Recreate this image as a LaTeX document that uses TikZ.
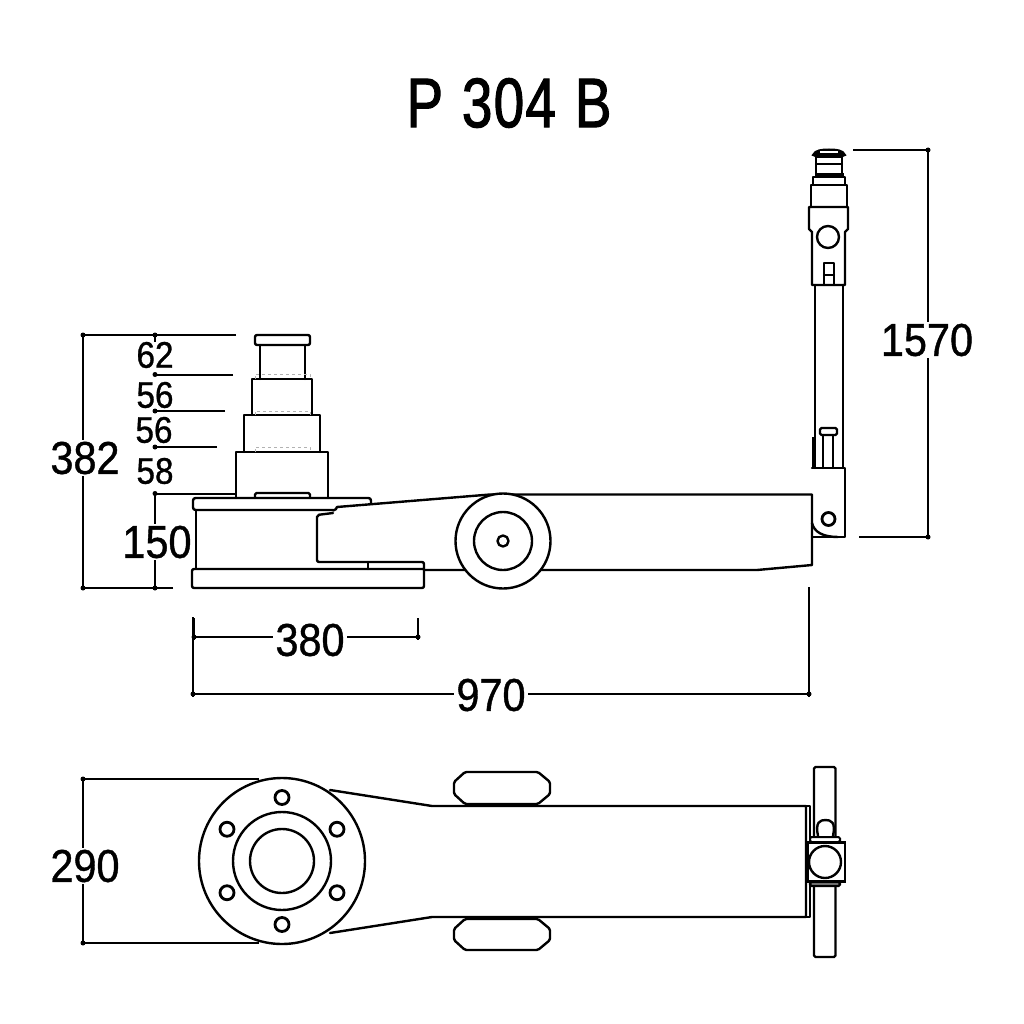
\documentclass[tikz,border=0pt]{standalone}
\usepackage{fontspec}
\setmainfont[FakeStretch=0.9,FakeBold=0.9]{Liberation Sans}
\newfontfamily\titlefont[FakeStretch=0.78,FakeBold=1.6,WordSpace=1.15,LetterSpace=2]{Liberation Sans}
\tikzset{
  part/.style={line width=2.4pt,line join=round,line cap=round},
  dim/.style={line width=2pt},
  hid/.style={line width=.6pt,gray!60,dashed},
  lab/.style={font=\fontsize{46}{46}\selectfont,inner sep=2pt,fill=none},
  small lab/.style={font=\fontsize{37}{37}\selectfont,inner sep=0pt},
  dot/.style={circle,fill=black,inner sep=0pt,minimum size=5pt}
}
\begin{document}
\begin{tikzpicture}[x=1pt,y=-1pt]
\useasboundingbox (0,0) rectangle (1024,1024);
% title
\node[font=\titlefont\fontsize{70}{70}\selectfont,inner sep=0pt] (title) at (509,103) {P 304 B};

% side view: cylinder
\draw[part,rounded corners=2pt] (255,335) rectangle (310,345);
\draw[part] (260,345) -- (260,379);
\draw[part] (305,345) -- (305,379);
\draw[part] (252,415) -- (252,379) -- (312,379) -- (312,415);
\draw[part] (244,452) -- (244,415) -- (320,415) -- (320,452);
\draw[part] (236,498) -- (236,452) -- (328,452) -- (328,498);
\draw[part,rounded corners=1.5pt] (255,498) -- (255,493) -- (310,493) -- (310,498);
\draw[hid] (255,379) -- (255,374) -- (310,374) -- (310,379);
\draw[hid] (255,415) -- (255,411) -- (310,411) -- (310,415);
\draw[hid] (255,452) -- (255,447) -- (310,447) -- (310,452);

% side view: saddle arm and base
\draw[part,rounded corners=2.5pt] (333,510) -- (193,510) -- (193,498) -- (371,498) -- (371,504);
\draw[part] (196,510) -- (196,568);
\draw[part] (337,507) -- (490,494.5) -- (812,494.5) -- (812,565) -- (757,570) -- (424,570);
\draw[part] (333,510.5) .. controls (336,510) and (336,509) .. (337,507);
\draw[part,rounded corners=2pt] (333,513) -- (317,515) -- (317,562) -- (424,562) -- (424,588) -- (192,588) -- (192,569) -- (424,569);
\draw[part] (368,562) -- (368,569);

% wheel
\draw[part,fill=white] (503,541) circle (47.5);
\draw[part] (503,541) circle (29);
\draw[part] (503,541) circle (5.5);

% side view: handle
\draw[part] (815,285) -- (815,468);
\draw[part] (843,285) -- (843,468);
\draw[line width=3.5pt] (813.5,437) -- (813.5,468);
\draw[part] (823,435) -- (823,468);
\draw[part] (833,435) -- (833,468);
\draw[part,rounded corners=1.5pt] (820,428) rectangle (837,435);
\draw[part] (812,468) -- (845,468) -- (845,537) -- (812,537);
\draw[part] (812,523) .. controls (814,532) and (823,537) .. (838,537);
\draw[line width=2.8pt] (828.5,519) circle (6.5);
\draw[part] (812,285) -- (845,285) -- (845,232) -- (848,229) -- (848,207) -- (809,207) -- (809,229) -- (812,232) -- cycle;
\draw[part] (811,207) -- (811,185) -- (847,185) -- (847,207);
\draw[part] (813,185) -- (813,177) -- (845,177) -- (845,185);
\draw[line width=3pt] (815,174.5) -- (844,174.5);
\draw[part] (816,174) -- (816,157);
\draw[part] (842,174) -- (842,157);
\draw[part] (816,164) -- (842,164);
\draw[line width=2pt,fill=black] (813,155) .. controls (815,150) and (822,149.5) .. (829,149.5) .. controls (836,149.5) and (843,150) .. (845,155) -- (840,157) -- (818,157) -- cycle;
\draw[fill=white,draw=none] (820,151.5) -- (838,151.5) -- (838,153) -- (820,153) -- cycle;
\draw[part] (828,237) circle (11);
\draw[part] (824,285) -- (824,263) -- (834,263) -- (834,285);
\draw[part] (824,275) -- (834,275);

% plan view: body
\draw[part] (330,790) -- (432,806) -- (806,806) -- (806,917) -- (432,917) -- (330,933);
\draw[part] (806,806) -- (810,806) -- (810,843);
\draw[part] (806,917) -- (810,917) -- (810,882);
\draw[line width=3.5pt] (807,843) -- (807,882);
% flange
\draw[part,fill=white] (282,861) circle (83);
\draw[part] (282,861) circle (49);
\draw[part] (282,861) circle (32);
\foreach \a in {30,90,150,210,270,330}
  \draw[line width=2.8pt] (282,861) ++(\a:63.5) circle (7);
% wheels
\draw[part,rounded corners=1.5pt] (465,772) -- (538,772) -- (550,782) -- (550,794) -- (538,804) -- (465,804) -- (454,794) -- (454,782) -- cycle;
\draw[part,rounded corners=1.5pt] (465,919) -- (538,919) -- (550,929) -- (550,940) -- (538,950) -- (465,950) -- (454,940) -- (454,929) -- cycle;
% plan view: handle
\draw[part,rounded corners=1.5pt] (814,836) -- (814,767) -- (835.5,767) -- (835.5,836);
\draw[part,rounded corners=1.5pt] (814,886) -- (814,957) -- (835.5,957) -- (835.5,886);
\draw[part] (818,836) .. controls (815,822) and (820,820) .. (825.5,820) .. controls (831,820) and (836,822) .. (833,836);
\draw[line width=2pt,rounded corners=1.5pt] (810,837) rectangle (840,842);
\draw[line width=2.4pt] (806.5,842.5) rectangle (845,881.5);
\draw[part,fill=white] (825,862) circle (16);
\draw[line width=2.4pt,rounded corners=1.5pt,fill=gray] (810,882) rectangle (840,886);

% dimension labels
\node[lab] (d1570) at (927,340) {1570};
\node[lab] (d382) at (85,458) {382};
\node[lab] (d150) at (157,542) {150};
\node[lab] (d380) at (310,640) {380};
\node[lab] (d970) at (491,695) {970};
\node[lab] (d290) at (85,866) {290};
\node[small lab] (d62) at (155,355) {62};
\node[small lab] (d56a) at (155,395) {56};
\node[small lab] (d56b) at (154,430) {56};
\node[small lab] (d58) at (155,471) {58};

% dimension anchors
\coordinate (rt) at (928,150);
\coordinate (rb) at (928,537);
\coordinate (lt) at (83,335);
\coordinate (lb) at (83,588);
\coordinate (mt) at (155,335);
\coordinate (m1) at (155,374.5);
\coordinate (m2) at (155,411);
\coordinate (m3) at (155,447);
\coordinate (m4) at (155,493.5);
\coordinate (mb) at (155,588);
\coordinate (a1) at (194,637);
\coordinate (a2) at (418,637);
\coordinate (b1) at (193,694);
\coordinate (b2) at (809,694);
\coordinate (p1) at (83,779);
\coordinate (p2) at (83,943);

% dimension lines
\draw[dim] (853,150) -- (rt) -- (rt |- d1570.north);
\draw[dim] (859,537) -- (rb) -- (rb |- d1570.south);
\draw[dim] (236,335) -- (lt) -- (lt |- d382.north);
\draw[dim] (173,588) -- (lb) -- (lb |- d382.south);
\draw[dim] (mt) -- (mt |- d62.north);
\draw[dim] (233,374.5) -- (m1);
\draw[dim] (225,411) -- (m2);
\draw[dim] (217,447) -- (m3);
\draw[dim] (236,493.5) -- (m4) -- (m4 |- d150.north);
\draw[dim] (mb) -- (mb |- d150.south);
\draw[dim] (a1) -- (a1 -| d380.west);
\draw[dim] (a2) -- (a2 -| d380.east);
\draw[dim] (194,618) -- (194,640);
\draw[dim] (418,618) -- (418,640);
\draw[dim] (b1) -- (b1 -| d970.west);
\draw[dim] (b2) -- (b2 -| d970.east);
\draw[dim] (193,617) -- (193,697);
\draw[dim] (809,587) -- (809,697);
\draw[dim] (259,779) -- (p1) -- (p1 |- d290.north);
\draw[dim] (259,943) -- (p2) -- (p2 |- d290.south);
\foreach \c in {rt,rb,lt,lb,mt,m1,m2,m3,m4,mb,a1,a2,b1,b2,p1,p2}
  \node[dot] at (\c) {};
\end{tikzpicture}
\end{document}
